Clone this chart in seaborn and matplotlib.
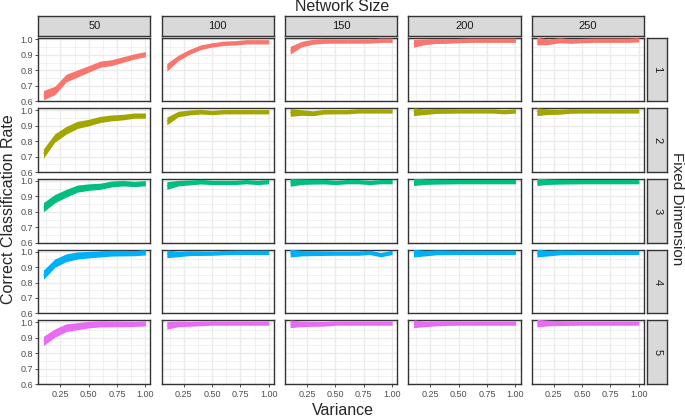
import numpy as np
import pandas as pd
import matplotlib
matplotlib.use("Agg")
import matplotlib.pyplot as plt
import seaborn as sns

sizes = [50, 100, 150, 200, 250]
dims = [1, 2, 3, 4, 5]
variance = [0.1, 0.2, 0.3, 0.4, 0.5, 0.6, 0.7, 0.8, 0.9, 1.0]
colors = ["#F8766D", "#A3A500", "#00BF7D", "#00B0F6", "#E76BF3"]

# mean correct classification rate, [dim][size]
d1 = [[0.64,0.67,0.75,0.78,0.81,0.84,0.85,0.87,0.89,0.905],
      [0.82,0.88,0.92,0.95,0.965,0.975,0.978,0.985,0.985,0.985],
      [0.93,0.97,0.985,0.99,0.99,0.99,0.99,0.99,0.995,0.995],
      [0.975,0.985,0.99,0.99,0.993,0.995,0.995,0.995,0.995,0.995],
      [0.99,0.985,0.995,0.99,0.993,0.995,0.995,0.995,0.995,0.998]]
d2 = [[0.72,0.82,0.87,0.905,0.92,0.94,0.95,0.955,0.965,0.965],
      [0.93,0.975,0.985,0.99,0.985,0.99,0.99,0.99,0.99,0.99],
      [0.985,0.985,0.98,0.99,0.99,0.99,0.995,0.995,0.995,0.995],
      [0.99,0.99,0.995,0.995,0.995,0.995,0.995,0.995,0.99,0.995],
      [0.99,0.99,0.99,0.995,0.995,0.995,0.995,0.995,0.995,0.995]]
d3 = [[0.83,0.885,0.92,0.95,0.96,0.965,0.98,0.985,0.98,0.985],
      [0.97,0.985,0.99,0.995,0.99,0.99,0.99,0.995,0.99,0.995],
      [0.99,0.995,0.995,0.995,0.99,0.995,0.995,0.99,0.995,0.995],
      [0.995,0.995,0.995,0.995,0.995,0.995,0.995,0.995,0.995,0.995],
      [0.995,0.995,0.995,0.995,0.995,0.995,0.995,0.995,0.995,0.995]]
d4 = [[0.85,0.925,0.96,0.975,0.98,0.985,0.99,0.99,0.99,0.995],
      [0.985,0.985,0.99,0.99,0.99,0.993,0.995,0.995,0.995,0.995],
      [0.99,0.99,0.99,0.99,0.99,0.99,0.99,0.995,0.98,0.995],
      [0.99,0.99,0.995,0.995,0.995,0.995,0.995,0.995,0.995,0.995],
      [0.99,0.99,0.995,0.995,0.995,0.995,0.995,0.995,0.995,0.995]]
d5 = [[0.88,0.93,0.965,0.975,0.985,0.99,0.99,0.99,0.99,0.993],
      [0.98,0.99,0.99,0.993,0.995,0.995,0.995,0.995,0.995,0.995],
      [0.99,0.99,0.99,0.99,0.995,0.995,0.995,0.995,0.995,0.995],
      [0.99,0.99,0.993,0.995,0.995,0.995,0.995,0.995,0.995,0.995],
      [0.995,0.995,0.995,0.995,0.995,0.995,0.995,0.995,0.995,0.995]]
means = [d1, d2, d3, d4, d5]
# half-width of the band
hw_small = [0.03, 0.027, 0.025, 0.023, 0.021, 0.02, 0.019, 0.018, 0.017, 0.017]
hw_large = [0.025, 0.018, 0.016, 0.015, 0.014, 0.014, 0.014, 0.014, 0.014, 0.014]

rows = []
for i, dm in enumerate(dims):
    for j, sz in enumerate(sizes):
        for k, v in enumerate(variance):
            hw = hw_small[k] if j == 0 else hw_large[k]
            m = means[i][j][k]
            rows.append(dict(dim=dm, size=sz, var=v, mean=m,
                             lo=m - hw, hi=m + hw))
df = pd.DataFrame(rows)

sns.set_theme(style="white", font="Liberation Sans")
fig, axes = plt.subplots(5, 5, figsize=(6.85, 4.18), dpi=100, sharex=True, sharey=True)
fig.subplots_adjust(left=0.056, right=0.940, top=0.910, bottom=0.081, wspace=0.1, hspace=0.11)

for i, dm in enumerate(dims):
    for j, sz in enumerate(sizes):
        ax = axes[i, j]
        sub = df[(df.dim == dm) & (df["size"] == sz)]
        ax.fill_between(sub["var"], sub["lo"], sub["hi"], color=colors[i], lw=0, zorder=3)
        sns.lineplot(data=sub, x="var", y="mean", ax=ax, color=colors[i], lw=0.5, zorder=3)
        ax.set_xlim(0.055, 1.045)
        ax.set_ylim(0.6, 1.012)
        ax.set_xticks([0.25, 0.5, 0.75, 1.0])
        ax.set_xticks([0.125, 0.375, 0.625, 0.875], minor=True)
        ax.set_yticks([0.6, 0.7, 0.8, 0.9, 1.0])
        ax.set_yticks([0.65, 0.75, 0.85, 0.95], minor=True)
        ax.grid(True, which="major", color="#EBEBEB", lw=1.0)
        ax.grid(True, which="minor", color="#EBEBEB", lw=0.5)
        ax.set_axisbelow(True)
        for s in ax.spines.values():
            s.set_color("#333333"); s.set_linewidth(1.0)
        ax.set_xlabel(""); ax.set_ylabel("")
        ax.tick_params(which="major", length=2.5, width=0.6, color="#333333",
                       labelsize=6.5, labelcolor="#4D4D4D", pad=1.5, left=(j == 0), bottom=(i == 4))
        ax.tick_params(which="minor", length=0)
        ax.set_xticklabels(["0.25", "0.50", "0.75", "1.00"])
        ax.set_yticklabels(["0.6", "0.7", "0.8", "0.9", "1.0"])

# strips
for j, sz in enumerate(sizes):
    p = axes[0, j].get_position()
    sa = fig.add_axes([p.x0, p.y1 + 0.004, p.width, 0.048])
    sa.set_facecolor("#D9D9D9"); sa.set_xticks([]); sa.set_yticks([])
    for s in sa.spines.values():
        s.set_color("#333333"); s.set_linewidth(1.0)
    sa.text(0.5, 0.5, str(sz), ha="center", va="center", fontsize=8, color="#1A1A1A", transform=sa.transAxes)
for i, dm in enumerate(dims):
    p = axes[i, 4].get_position()
    sa = fig.add_axes([p.x1 + 0.005, p.y0, 0.029, p.height])
    sa.set_facecolor("#D9D9D9"); sa.set_xticks([]); sa.set_yticks([])
    for s in sa.spines.values():
        s.set_color("#333333"); s.set_linewidth(1.0)
    sa.text(0.5, 0.5, str(dm), ha="center", va="center", fontsize=8, rotation=-90, color="#1A1A1A", transform=sa.transAxes)

fig.text(0.5, 0.985, "Network Size", ha="center", va="center", fontsize=11.5)
fig.text(0.5, 0.018, "Variance", ha="center", va="center", fontsize=11.5)
fig.text(0.012, 0.5, "Correct Classification Rate", ha="center", va="center", fontsize=11.5, rotation=90)
fig.text(0.988, 0.5, "Fixed Dimension", ha="center", va="center", fontsize=11, rotation=-90)

fig.savefig("out.png", dpi=100, facecolor="white")
